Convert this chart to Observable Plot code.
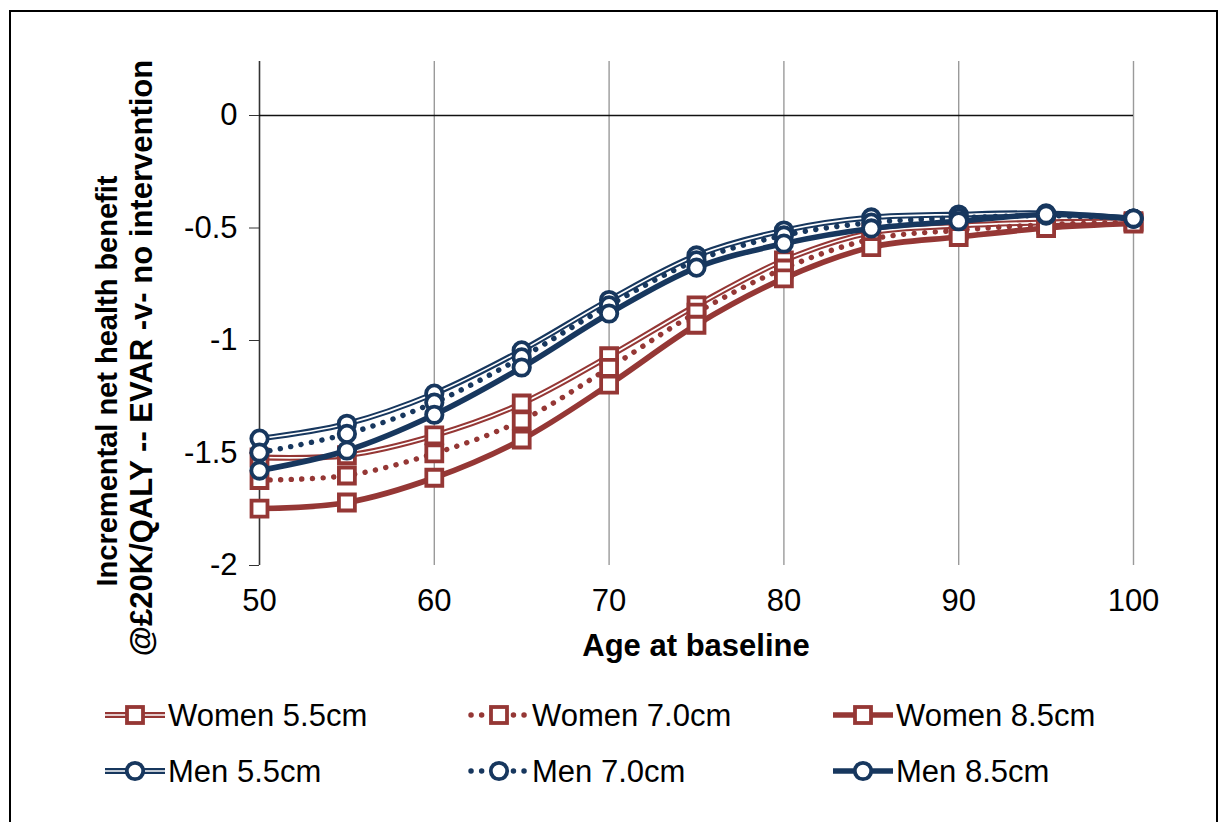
<!DOCTYPE html>
<html><head><meta charset="utf-8">
<script src="https://cdn.jsdelivr.net/npm/d3@7"></script>
<script src="https://cdn.jsdelivr.net/npm/@observablehq/plot@0.6"></script>
<style>
body{margin:0;background:#fff;font-family:"Liberation Sans",Arial,sans-serif;width:1224px;height:822px;overflow:hidden;}
#frame{position:absolute;left:9px;top:10px;width:1205px;height:830px;border:2px solid #000;}
#chart{position:absolute;left:0;top:0;}
#overlay{position:absolute;left:0;top:0;}
</style></head><body>
<div id="frame"></div>
<div id="chart"></div>
<svg id="overlay" width="1224" height="822"></svg>
<script>
const ages = [50, 55, 60, 65, 70, 75, 80, 85, 90, 95, 100];
const women55 = [-1.52, -1.51, -1.422, -1.28, -1.07, -0.844, -0.644, -0.52, -0.49, -0.475, -0.47];
const women70 = [-1.62, -1.60, -1.502, -1.355, -1.122, -0.876, -0.68, -0.55, -0.51, -0.485, -0.475];
const women85 = [-1.747, -1.72, -1.61, -1.44, -1.196, -0.93, -0.724, -0.585, -0.54, -0.5, -0.48];
const men55 = [-1.436, -1.37, -1.236, -1.044, -0.82, -0.622, -0.511, -0.453, -0.44, -0.435, -0.458];
const men70 = [-1.498, -1.415, -1.276, -1.075, -0.844, -0.644, -0.533, -0.476, -0.455, -0.445, -0.458];
const men85 = [-1.578, -1.489, -1.33, -1.12, -0.88, -0.676, -0.569, -0.502, -0.47, -0.44, -0.458];
const seriesNames = ["Women 5.5cm", "Women 7.0cm", "Women 8.5cm", "Men 5.5cm", "Men 7.0cm", "Men 8.5cm"];
const seriesValues = [women55, women70, women85, men55, men70, men85];
const yTicks = [0, -0.5, -1, -1.5, -2];
const xTicks = [50, 60, 70, 80, 90, 100];
const xTitle = "Age at baseline";
const yTitle1 = "Incremental net health benefit";
const yTitle2 = "@£20K/QALY  -- EVAR -v- no intervention";

const RED = "#953735", BLUE = "#17375e";
const styleOf = name => ({
  color: name.startsWith("Women") ? RED : BLUE,
  symbol: name.startsWith("Women") ? "square" : "circle",
  kind: name.includes("5.5") ? "double" : name.includes("7.0") ? "dotted" : "solid"
});

const series = seriesNames.map((name, i) => ({
  name,
  rows: ages.map((a, j) => ({age: a, value: seriesValues[i][j], series: name}))
}));

const FONT = '"Liberation Sans", Arial, sans-serif';
const FS = 31;
const marks = [
  Plot.ruleX(xTicks.slice(1), {stroke: "#9a9a9a", strokeWidth: 1.4}),
  Plot.ruleX([50], {stroke: "#333", strokeWidth: 1.6}),
  Plot.ruleY([0], {stroke: "#111", strokeWidth: 1.4}),
  Plot.axisY(yTicks, {tickSize: 10, tickPadding: 12, tickFormat: d => String(d), fontSize: FS, stroke: "#333", fill: "#000", label: null}),
  Plot.axisX(xTicks, {tickSize: 0, tickPadding: 23, tickFormat: d => String(d), fontSize: FS, fill: "#000", anchor: "bottom", label: null})
];
for (const s of series) {
  const st = styleOf(s.name);
  const common = {x: "age", y: "value", curve: "catmull-rom"};
  if (st.kind === "double") {
    marks.push(Plot.line(s.rows, {...common, stroke: st.color, strokeWidth: 5.8}));
    marks.push(Plot.line(s.rows, {...common, stroke: "#fff", strokeWidth: 1.7}));
  } else if (st.kind === "dotted") {
    marks.push(Plot.line(s.rows, {...common, stroke: st.color, strokeWidth: 5.4, strokeDasharray: "0.1,10.5", strokeLinecap: "round"}));
  } else {
    marks.push(Plot.line(s.rows, {...common, stroke: st.color, strokeWidth: 5.6}));
  }
  marks.push(Plot.dot(s.rows, {x: "age", y: "value", symbol: st.symbol, r: st.symbol === "square" ? 9 : 8.2, fill: "#fff", stroke: st.color, strokeWidth: 3.8}));
}

const chart = Plot.plot({
  width: 1224, height: 680,
  marginLeft: 259, marginRight: 91, marginTop: 61, marginBottom: 115,
  style: {fontFamily: FONT, fontSize: FS + "px", background: "transparent", overflow: "visible"},
  x: {domain: [50, 100], axis: null},
  y: {domain: [-2, 0.24], axis: null},
  marks
});
document.getElementById("chart").appendChild(chart);

// titles and legend
const svg = d3.select("#overlay");
svg.append("text").attr("x", 696).attr("y", 645).attr("text-anchor", "middle").attr("dominant-baseline", "central")
  .attr("font-family", FONT).attr("font-size", FS).attr("font-weight", "bold").text(xTitle);
svg.append("text").attr("transform", "translate(107,381) rotate(-90)").attr("text-anchor", "middle").attr("dominant-baseline", "central")
  .attr("font-family", FONT).attr("font-size", 29).attr("font-weight", "bold").text(yTitle1);
svg.append("text").attr("transform", "translate(141,358) rotate(-90)").attr("text-anchor", "middle").attr("dominant-baseline", "central")
  .attr("font-family", FONT).attr("font-size", FS).attr("font-weight", "bold").text(yTitle2);

const colX = [105, 469, 833], rowY = [715, 771];
seriesNames.forEach((name, i) => {
  const st = styleOf(name);
  const x0 = colX[i % 3], y0 = rowY[Math.floor(i / 3)];
  const g = svg.append("g");
  if (st.kind === "double") {
    g.append("line").attr("x1", x0).attr("x2", x0 + 60).attr("y1", y0).attr("y2", y0).attr("stroke", st.color).attr("stroke-width", 5.8);
    g.append("line").attr("x1", x0).attr("x2", x0 + 60).attr("y1", y0).attr("y2", y0).attr("stroke", "#fff").attr("stroke-width", 1.7);
  } else if (st.kind === "dotted") {
    g.append("line").attr("x1", x0 + 2).attr("x2", x0 + 60).attr("y1", y0).attr("y2", y0).attr("stroke", st.color).attr("stroke-width", 5.4)
      .attr("stroke-dasharray", "0.1,10.5").attr("stroke-linecap", "round");
  } else {
    g.append("line").attr("x1", x0).attr("x2", x0 + 60).attr("y1", y0).attr("y2", y0).attr("stroke", st.color).attr("stroke-width", 5.6);
  }
  const cx = x0 + 30;
  if (st.symbol === "square") {
    g.append("rect").attr("x", cx - 8).attr("y", y0 - 8).attr("width", 16).attr("height", 16).attr("fill", "#fff").attr("stroke", st.color).attr("stroke-width", 3.8);
  } else {
    g.append("circle").attr("cx", cx).attr("cy", y0).attr("r", 8.2).attr("fill", "#fff").attr("stroke", st.color).attr("stroke-width", 3.8);
  }
  g.append("text").attr("x", x0 + 63).attr("y", y0).attr("dominant-baseline", "central")
    .attr("font-family", FONT).attr("font-size", FS).attr("fill", "#000").text(name);
});
</script>
</body></html>
